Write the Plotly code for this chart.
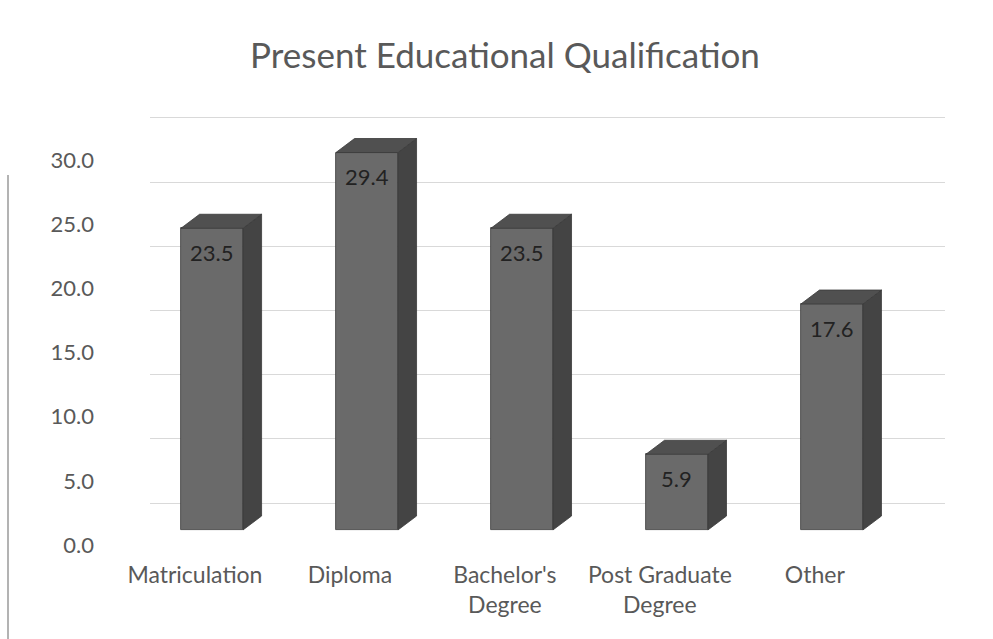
import plotly.graph_objects as go

# ---- data ----
categories = ["Matriculation", "Diploma", "Bachelor's<br>Degree", "Post Graduate<br>Degree", "Other"]
values = [23.5, 29.4, 23.5, 5.9, 17.6]
y_ticks = [0, 5, 10, 15, 20, 25, 30]
title_text = "Present Educational Qualification"

# ---- style ----
FONT = "Lato"
FRONT = "#6a6a6a"
SIDE = "#444444"
TOP = "#505050"
EDGE = "#3a3a3a"
PX_PER_UNIT = 12.84
PLOT_TOP, PLOT_BOTTOM = 100, 550
H = PLOT_BOTTOM - PLOT_TOP
BAR_W, BAR_OFF = 0.4, -0.09
DX = 0.12          # depth in x-units
DY = 14 / PX_PER_UNIT  # depth in y-units

def axis_range(zero_px):
    lo = -(PLOT_BOTTOM - zero_px) / PX_PER_UNIT
    return [lo, lo + H / PX_PER_UNIT]

idx = list(range(len(categories)))

fig = go.Figure()
# back-wall grid axis (primary)
fig.add_trace(go.Scatter(x=[0], y=[0], mode="markers", marker=dict(opacity=0),
                         hoverinfo="skip", showlegend=False, yaxis="y"))
# bars
fig.add_trace(go.Bar(x=idx, y=values, width=BAR_W, offset=BAR_OFF,
                     marker=dict(color=FRONT, line=dict(color=EDGE, width=0.8)),
                     showlegend=False, yaxis="y2", hoverinfo="x+y"))
# label axis
fig.add_trace(go.Scatter(x=[0], y=[0], mode="markers", marker=dict(opacity=0),
                         hoverinfo="skip", showlegend=False, yaxis="y3"))

shapes = []
annotations = []
for i, v in zip(idx, values):
    x0 = i + BAR_OFF
    x1 = x0 + BAR_W
    side = f"M {x1} 0 L {x1+DX} {DY} L {x1+DX} {v+DY} L {x1} {v} Z"
    top = f"M {x0} {v} L {x1} {v} L {x1+DX} {v+DY} L {x0+DX} {v+DY} Z"
    shapes.append(dict(type="path", path=side, xref="x", yref="y2",
                       fillcolor=SIDE, line=dict(color=EDGE, width=0.8)))
    shapes.append(dict(type="path", path=top, xref="x", yref="y2",
                       fillcolor=TOP, line=dict(color=EDGE, width=0.8)))
    annotations.append(dict(x=(x0 + x1) / 2, y=v, xref="x", yref="y2",
                            text=f"{v:.1f}", showarrow=False, yshift=-24,
                            font=dict(family=FONT, size=22, color="#222222")))

# scan-edge line on left
shapes.append(dict(type="line", xref="paper", yref="paper",
                   x0=(8 - 150) / 795, x1=(8 - 150) / 795,
                   y0=(PLOT_BOTTOM - 175) / H, y1=(PLOT_BOTTOM - 639) / H,
                   line=dict(color="#9a9a9a", width=1.5)))

fig.update_layout(
    width=993, height=639,
    margin=dict(l=150, r=48, t=PLOT_TOP, b=639 - PLOT_BOTTOM),
    paper_bgcolor="white", plot_bgcolor="white",
    title=dict(text=title_text, x=505 / 993, xanchor="center", xref="container",
               y=1 - 56 / 639, yanchor="middle", yref="container",
               font=dict(family=FONT, size=35, color="#595959")),
    xaxis=dict(range=[-0.29, 4.84], tickvals=idx, ticktext=categories,
               showgrid=False, zeroline=False, showline=False, ticks="",
               ticklabelstandoff=9,
               tickfont=dict(family=FONT, size=23, color="#595959")),
    yaxis=dict(range=axis_range(503), dtick=5, tick0=0, showgrid=True,
               gridcolor="#d9d9d9", gridwidth=1, zeroline=False,
               showticklabels=False, showline=False, ticks=""),
    yaxis2=dict(range=axis_range(530), overlaying="y", visible=False),
    yaxis3=dict(range=axis_range(545), overlaying="y", side="left",
                tickvals=y_ticks, ticktext=[f"{t:.1f}" for t in y_ticks],
                showgrid=False, zeroline=False, showline=False, ticks="",
                ticklabelstandoff=55,
                tickfont=dict(family=FONT, size=22, color="#595959")),
    shapes=shapes,
    annotations=annotations,
    bargap=0,
)

fig.write_html("out.html")
